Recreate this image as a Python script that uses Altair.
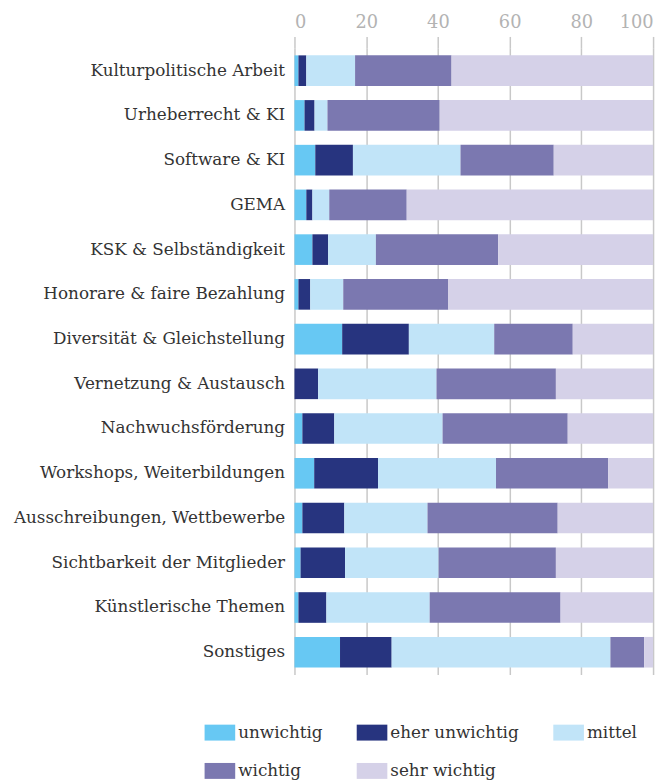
import altair as alt
import pandas as pd

categories = [
    "Kulturpolitische Arbeit", "Urheberrecht & KI", "Software & KI", "GEMA",
    "KSK & Selbständigkeit", "Honorare & faire Bezahlung", "Diversität & Gleichstellung",
    "Vernetzung & Austausch", "Nachwuchsförderung", "Workshops, Weiterbildungen",
    "Ausschreibungen, Wettbewerbe", "Sichtbarkeit der Mitglieder", "Künstlerische Themen",
    "Sonstiges",
]
levels = ["unwichtig", "eher unwichtig", "mittel", "wichtig", "sehr wichtig"]
unwichtig = [1.1, 2.8, 5.8, 3.3, 5.0, 1.1, 13.3, 0.0, 2.2, 5.5, 2.2, 1.7, 1.1, 12.7]
eher_unwichtig = [2.2, 2.8, 10.5, 1.7, 4.4, 3.3, 18.6, 6.6, 8.9, 17.8, 11.7, 12.4, 7.8, 14.4]
mittel = [13.6, 3.6, 30.0, 4.7, 13.3, 9.2, 23.8, 33.0, 30.2, 32.9, 23.2, 26.1, 28.8, 61.0]
wichtig = [26.9, 31.3, 26.0, 21.6, 34.1, 29.3, 21.9, 33.3, 34.9, 31.3, 36.3, 32.7, 36.5, 9.4]
sehr_wichtig = [56.2, 59.5, 27.7, 68.7, 43.2, 57.1, 22.4, 27.1, 23.8, 12.5, 26.6, 27.1, 25.8, 2.5]
colors = ["#67c8f3", "#27347f", "#c1e4f8", "#7b78b0", "#d5d1e8"]
x_ticks = [0, 20, 40, 60, 80, 100]

series = [unwichtig, eher_unwichtig, mittel, wichtig, sehr_wichtig]
rows = []
for li, (lvl, vals) in enumerate(zip(levels, series)):
    for cat, v in zip(categories, vals):
        rows.append({"Thema": cat, "Stufe": lvl, "order": li, "Wert": v})
df = pd.DataFrame(rows)

FONT = "DejaVu Serif"

chart = alt.Chart(df).mark_bar(size=31).encode(
    y=alt.Y("Thema:N", sort=categories, title=None,
            scale=alt.Scale(paddingInner=0.31, paddingOuter=0.155),
            axis=alt.Axis(ticks=False, domain=False, labelPadding=10,
                          labelFontSize=17, labelColor="#333333", labelFont=FONT,
                          labelLimit=400)),
    x=alt.X("Wert:Q", stack="zero", title=None,
            scale=alt.Scale(domain=[0, 100], nice=False),
            axis=alt.Axis(orient="top", values=x_ticks, grid=True, gridColor="#c8c8c8",
                          gridWidth=1.5, domain=False, tickColor="#c8c8c8", tickWidth=1.5,
                          tickSize=12, labelFontSize=18, labelColor="#b3b3b3",
                          labelFont=FONT, labelPadding=5)),
    color=alt.Color("Stufe:N", sort=levels,
                    scale=alt.Scale(domain=levels, range=colors),
                    legend=alt.Legend(title=None, orient="none", legendX=-91, legendY=677,
                                      direction="horizontal", columns=3, columnPadding=34,
                                      rowPadding=15, labelFontSize=17, labelFont=FONT,
                                      labelColor="#333333", labelOffset=3,
                                      symbolType="M-1,-0.52H1V0.52H-1Z", symbolSize=961,
                                      symbolStrokeWidth=0, symbolOpacity=1, labelLimit=300)),
    order=alt.Order("order:Q"),
).properties(
    width=363, height=634,
    padding={"left": 5, "top": 1, "right": 5, "bottom": 5},
).configure_view(stroke=None)

chart.save("out.html", embed_options={"renderer": "svg", "actions": False})
